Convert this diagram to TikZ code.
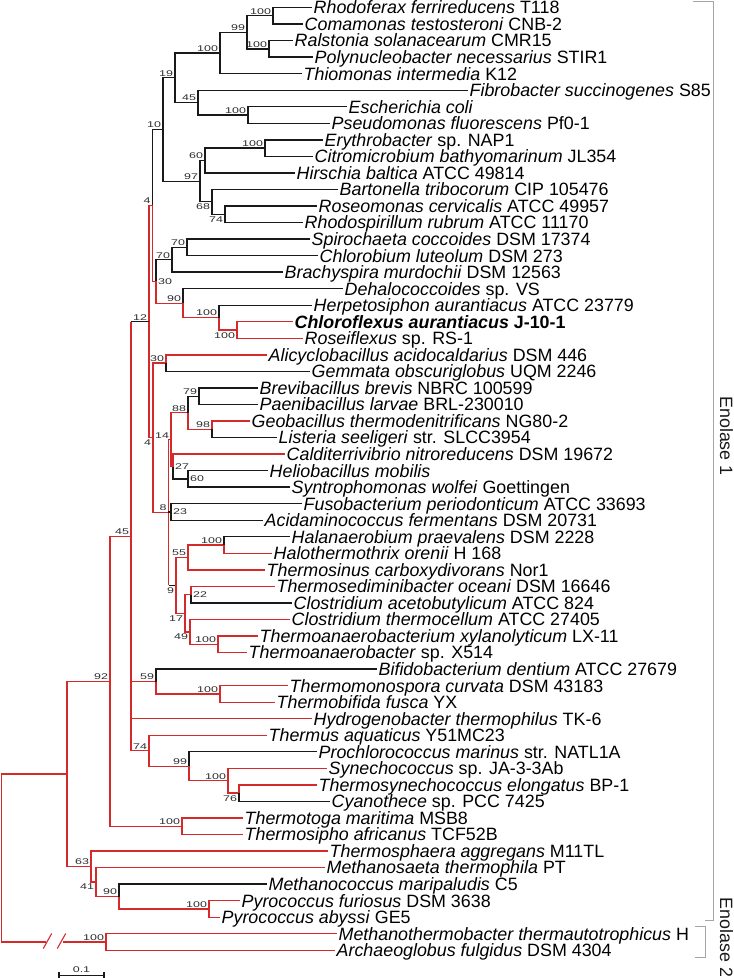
\documentclass[tikz,border=0pt]{standalone}
\usepackage{fontspec}
\setmainfont{Liberation Sans}
\usetikzlibrary{calc}
\definecolor{tr}{RGB}{214,42,42}
\definecolor{tk}{RGB}{25,25,25}
\definecolor{tg}{RGB}{165,165,165}
\definecolor{bsc}{RGB}{45,45,45}
\newcommand\bsx[1]{\scalebox{1.5}[1]{\fontsize{8.3}{8.3}\selectfont #1}}
\newcommand\lf[3]{\coordinate (t#1) at (#2,{7.5+(#1-1)*16.54}); \node[leaflab] (L#1) at (t#1) {#3};}
\begin{document}
\begin{tikzpicture}[x=1pt,y=-1pt,
  k/.style={draw=tk,line width=1.35pt},
  r/.style={draw=tr,line width=1.35pt},
  g/.style={draw=tg,line width=0.9pt},
  leaflab/.style={anchor=base west,inner sep=0pt,xshift=1.5pt,yshift=-6.4pt,font=\fontsize{17.85}{18}\selectfont,text=black},
  bl/.style={anchor=south east,inner sep=0pt,xshift=-1.8pt,yshift=1.4pt,text=bsc},
  bb/.style={anchor=north east,inner sep=0pt,xshift=-1.8pt,yshift=-2pt,text=bsc},
  brt/.style={anchor=west,inner sep=0pt,xshift=2pt,text=bsc},
  enol/.style={rotate=-90,anchor=base,inner sep=0pt,font=\fontsize{17.85}{18}\selectfont,text=tk}]
\useasboundingbox (0,0) rectangle (734,978);
% leaves
\lf{1}{312}{\textit{Rhodoferax ferrireducens} T118}
\lf{2}{303}{\textit{Comamonas testosteroni} CNB-2}
\lf{3}{293}{\textit{Ralstonia solanacearum} CMR15}
\lf{4}{313}{\textit{Polynucleobacter necessarius} STIR1}
\lf{5}{302}{\textit{Thiomonas intermedia} K12}
\lf{6}{468}{\textit{Fibrobacter succinogenes} S85}
\lf{7}{347}{\textit{Escherichia coli}}
\lf{8}{330}{\textit{Pseudomonas fluorescens} Pf0-1}
\lf{9}{323}{\textit{Erythrobacter} sp. NAP1}
\lf{10}{313}{\textit{Citromicrobium bathyomarinum} JL354}
\lf{11}{295}{\textit{Hirschia baltica} ATCC 49814}
\lf{12}{338}{\textit{Bartonella tribocorum} CIP 105476}
\lf{13}{317}{\textit{Roseomonas cervicalis} ATCC 49957}
\lf{14}{303}{\textit{Rhodospirillum rubrum} ATCC 11170}
\lf{15}{310}{\textit{Spirochaeta coccoides} DSM 17374}
\lf{16}{318}{\textit{Chlorobium luteolum} DSM 273}
\lf{17}{283}{\textit{Brachyspira murdochii} DSM 12563}
\lf{18}{343}{\textit{Dehalococcoides} sp. VS}
\lf{19}{312}{\textit{Herpetosiphon aurantiacus} ATCC 23779}
\lf{20}{293}{\textbf{\textit{Chloroflexus aurantiacus} J-10-1}}
\lf{21}{303}{\textit{Roseiflexus} sp. RS-1}
\lf{22}{267}{\textit{Alicyclobacillus acidocaldarius} DSM 446}
\lf{23}{310}{\textit{Gemmata obscuriglobus} UQM 2246}
\lf{24}{258}{\textit{Brevibacillus brevis} NBRC 100599}
\lf{25}{258}{\textit{Paenibacillus larvae} BRL-230010}
\lf{26}{250}{\textit{Geobacillus thermodenitrificans} NG80-2}
\lf{27}{277}{\textit{Listeria seeligeri} str. SLCC3954}
\lf{28}{285}{\textit{Calditerrivibrio nitroreducens} DSM 19672}
\lf{29}{268}{\textit{Heliobacillus mobilis}}
\lf{30}{290}{\textit{Syntrophomonas wolfei} Goettingen}
\lf{31}{302}{\textit{Fusobacterium periodonticum} ATCC 33693}
\lf{32}{263}{\textit{Acidaminococcus fermentans} DSM 20731}
\lf{33}{290}{\textit{Halanaerobium praevalens} DSM 2228}
\lf{34}{272}{\textit{Halothermothrix orenii} H 168}
\lf{35}{265}{\textit{Thermosinus carboxydivorans} Nor1}
\lf{36}{275}{\textit{Thermosediminibacter oceani} DSM 16646}
\lf{37}{292}{\textit{Clostridium acetobutylicum} ATCC 824}
\lf{38}{290}{\textit{Clostridium thermocellum} ATCC 27405}
\lf{39}{258}{\textit{Thermoanaerobacterium xylanolyticum} LX-11}
\lf{40}{247}{\textit{Thermoanaerobacter} sp. X514}
\lf{41}{377}{\textit{Bifidobacterium dentium} ATCC 27679}
\lf{42}{288}{\textit{Thermomonospora curvata} DSM 43183}
\lf{43}{275}{\textit{Thermobifida fusca} YX}
\lf{44}{312}{\textit{Hydrogenobacter thermophilus} TK-6}
\lf{45}{267}{\textit{Thermus aquaticus} Y51MC23}
\lf{46}{317}{\textit{Prochlorococcus marinus} str. NATL1A}
\lf{47}{327}{\textit{Synechococcus} sp. JA-3-3Ab}
\lf{48}{317}{\textit{Thermosynechococcus elongatus} BP-1}
\lf{49}{330}{\textit{Cyanothece} sp. PCC 7425}
\lf{50}{243}{\textit{Thermotoga maritima} MSB8}
\lf{51}{243}{\textit{Thermosipho africanus} TCF52B}
\lf{52}{328}{\textit{Thermosphaera aggregans} M11TL}
\lf{53}{325}{\textit{Methanosaeta thermophila} PT}
\lf{54}{267}{\textit{Methanococcus maripaludis} C5}
\lf{55}{240}{\textit{Pyrococcus furiosus} DSM 3638}
\lf{56}{220}{\textit{Pyrococcus abyssi} GE5}
\lf{57}{337}{\textit{Methanothermobacter thermautotrophicus} H}
\lf{58}{335}{\textit{Archaeoglobus fulgidus} DSM 4304}
% internal nodes
\coordinate (vA) at (273,15.75);
\coordinate (vB) at (269,48.85);
\coordinate (vC) at (247,32.3);
\coordinate (vD) at (220,53.0);
\coordinate (vE) at (248,115.0);
\coordinate (vF) at (198,102.6);
\coordinate (vG) at (175,77.8);
\coordinate (vH) at (265,148.1);
\coordinate (vI) at (205,160.5);
\coordinate (vJ) at (225,214.25);
\coordinate (vK) at (212,201.8);
\coordinate (vL) at (200,181.2);
\coordinate (vM) at (163,129.5);
\coordinate (vP) at (187,247.35);
\coordinate (vQ) at (172,259.7);
\coordinate (vU) at (237,330.05);
\coordinate (vT) at (219,317.6);
\coordinate (vS) at (183,303.2);
\coordinate (vR) at (156,281.4);
\coordinate (vN4) at (152.5,205.5);
\coordinate (v12) at (149,321.6);
\coordinate (v30) at (166,363.1);
\coordinate (v79) at (199,396.2);
\coordinate (v98) at (212,429.3);
\coordinate (v88) at (188,412.7);
\coordinate (v60) at (188,478.9);
\coordinate (v27) at (173,466.5);
\coordinate (v14) at (171,439.6);
\coordinate (v23) at (171,512.0);
\coordinate (vHal) at (224,545.05);
\coordinate (v55) at (188,557.5);
\coordinate (v22) at (191,594.65);
\coordinate (vTh) at (218,644.3);
\coordinate (v49) at (190,631.9);
\coordinate (v17) at (185,613.3);
\coordinate (v9) at (176,585.4);
\coordinate (v8) at (168.5,512.5);
\coordinate (vV) at (153,437.8);
\coordinate (vTT) at (220,693.9);
\coordinate (v59) at (156,681.5);
\coordinate (v76) at (239,793.15);
\coordinate (vS100) at (228,780.7);
\coordinate (v99) at (189,766.25);
\coordinate (v74) at (149,750.8);
\coordinate (vX) at (131,536.2);
\coordinate (vTm) at (182,826.25);
\coordinate (v92) at (110,681.2);
\coordinate (vPy) at (209,908.95);
\coordinate (v90) at (119,896.5);
\coordinate (v41) at (96,882.05);
\coordinate (v63) at (91,866.5);
\coordinate (vZ) at (67,773.9);
\coordinate (vE2) at (106,942);
\coordinate (vroot) at (1.5,857.95);
\coordinate (br1) at (46,942);
\coordinate (br2) at (63,942);
\coordinate (s1) at (47.5,941);
\coordinate (s2) at (61.5,941);
% edges: upper black clade
\draw[k] (vA) |- (t1); \draw[k] (vA) |- (t2);
\draw[k] (vB) |- (t3); \draw[k] (vB) |- (t4);
\draw[k] (vC) |- (vA); \draw[k] (vC) |- (vB);
\draw[k] (vD) |- (vC); \draw[k] (vD) |- (t5);
\draw[k] (vE) |- (t7); \draw[k] (vE) |- (t8);
\draw[k] (vF) |- (t6); \draw[k] (vF) |- (vE);
\draw[k] (vG) |- (vD); \draw[k] (vG) |- (vF);
\draw[k] (vH) |- (t9); \draw[k] (vH) |- (t10);
\draw[k] (vI) |- (vH); \draw[k] (vI) |- (t11);
\draw[k] (vJ) |- (t13); \draw[k] (vJ) |- (t14);
\draw[k] (vK) |- (t12); \draw[k] (vK) |- (vJ);
\draw[k] (vL) |- (vI); \draw[k] (vL) |- (vK);
\draw[k] (vM) |- (vG); \draw[k] (vM) |- (vL);
\draw[k] (vN4) |- (vM); \draw[r] (vN4) |- (vR);
\draw[k] (vR) |- (vQ); \draw[r] (vR) |- (vS);
\draw[k] (vQ) |- (vP); \draw[k] (vQ) |- (t17);
\draw[k] (vP) |- (t15); \draw[k] (vP) |- (t16);
\draw[k] (vS) |- (t18); \draw[r] (vS) |- (vT);
\draw[k] (vT) |- (t19); \draw[r] (vT) |- (vU);
\draw[r] (vU) |- (t20); \draw[r] (vU) |- (t21);
% middle
\draw[r] (v12) |- (vN4); \draw[r] (v12) |- (vV);
\draw[r] (vV) |- (v30); \draw[r] (vV) |- (v8);
\draw[r] (v30) |- (t22); \draw[k] (v30) |- (t23);
\draw[r] (v8) |- (v14); \draw[k] (v8) |- (v23);
\draw[r] (v8) -- (v8 |- v9); \draw[k] (v8 |- v9) -- (v9);
\draw[r] (v14) |- (v88); \draw[r] (v14) |- (v27);
\draw[k] (v88) |- (v79); \draw[r] (v88) |- (v98);
\draw[k] (v79) |- (t24); \draw[k] (v79) |- (t25);
\draw[r] (v98) |- (t26); \draw[k] (v98) |- (t27);
\draw[r] (v27) |- (t28); \draw[k] (v27) |- (v60);
\draw[k] (v60) |- (t29); \draw[k] (v60) |- (t30);
\draw[k] (v23) |- (t31); \draw[k] (v23) |- (t32);
\draw[r] (v9) |- (v55); \draw[r] (v9) |- (v17);
\draw[r] (v55) |- (vHal); \draw[r] (v55) |- (t35);
\draw[k] (vHal) |- (t33); \draw[r] (vHal) |- (t34);
\draw[r] (v17) |- (v22); \draw[r] (v17) |- (v49);
\draw[r] (v22) |- (t36); \draw[k] (v22) |- (t37);
\draw[r] (v49) |- (t38); \draw[r] (v49) |- (vTh);
\draw[r] (vTh) |- (t39); \draw[r] (vTh) |- (t40);
% lower
\draw[r] (vX) -- (vX |- v12); \draw[k] (vX |- v12) -- (v12);
\draw[r] (vX) |- (v59); \draw[r] (vX) |- (t44); \draw[r] (vX) |- (v74);
\draw[k] (v59) |- (t41); \draw[r] (v59) |- (vTT);
\draw[r] (vTT) |- (t42); \draw[r] (vTT) |- (t43);
\draw[r] (v74) |- (t45); \draw[r] (v74) |- (v99);
\draw[k] (v99) |- (t46); \draw[r] (v99) |- (vS100);
\draw[r] (vS100) |- (t47); \draw[r] (vS100) |- (v76);
\draw[r] (v76) |- (t48); \draw[k] (v76) |- (t49);
\draw[r] (v92) |- (vX); \draw[r] (v92) |- (vTm);
\draw[r] (vTm) |- (t50); \draw[r] (vTm) |- (t51);
\draw[r] (vZ) |- (v92); \draw[r] (vZ) |- (v63);
\draw[r] (v63) |- (t52); \draw[r] (v63) |- (v41);
\draw[r] (v41) |- (t53); \draw[r] (v41) |- (v90);
\draw[k] (v90) |- (t54); \draw[r] (v90) |- (vPy);
\draw[r] (vPy) |- (t55); \draw[r] (vPy) |- (t56);
\draw[r] (vE2) |- (t57); \draw[r] (vE2) |- (t58);
\draw[r] (vroot) |- (vZ);
\draw[r] (vroot) |- (br1);
\draw[r] (br2) -- (vE2);
\draw[r,line width=1.1pt] ([shift={(-4.2,7.5)}]s1) -- ([shift={(4.2,-7.5)}]s1);
\draw[r,line width=1.1pt] ([shift={(-4.2,7.5)}]s2) -- ([shift={(4.2,-7.5)}]s2);
% bootstrap values
\node[bl] (bA) at (vA) {\bsx{100}};
\node[bl] (bB) at (vB) {\bsx{100}};
\node[bl] (bC) at (vC) {\bsx{99}};
\node[bl] (bD) at (vD) {\bsx{100}};
\node[bl] (bE) at (vE) {\bsx{100}};
\node[bl] (bF) at (vF) {\bsx{45}};
\node[bl] (bG) at (vG) {\bsx{19}};
\node[bl] (bH) at (vH) {\bsx{100}};
\node[bl] (bI) at (vI) {\bsx{60}};
\node[bb] (bJ) at (vJ) {\bsx{74}};
\node[bb] (bK) at (vK) {\bsx{68}};
\node[bl] (bL) at (vL) {\bsx{97}};
\node[bl] (bM) at (vM) {\bsx{10}};
\node[bl] (bN4) at (vN4) {\bsx{4}};
\node[bl] (bP) at (vP) {\bsx{70}};
\node[bl] (bQ) at (vQ) {\bsx{70}};
\node[brt] (bR) at (vR) {\bsx{30}};
\node[bl] (bS) at (vS) {\bsx{90}};
\node[bl] (bT) at (vT) {\bsx{100}};
\node[bb] (bU) at (vU) {\bsx{100}};
\node[bl] (b12) at (v12) {\bsx{12}};
\node[bl] (b30) at (v30) {\bsx{30}};
\node[bl] (b79) at (v79) {\bsx{79}};
\node[bl] (b88) at (v88) {\bsx{88}};
\node[bl] (b98) at (v98) {\bsx{98}};
\node[bb] (bV) at (vV) {\bsx{4}};
\node[bl] (b14) at (v14) {\bsx{14}};
\node[brt] (b27) at (v27) {\bsx{27}};
\node[brt] (b60) at (v60) {\bsx{60}};
\node[bl] (b8) at (v8) {\bsx{8}};
\node[brt] (b23) at (v23) {\bsx{23}};
\node[bl] (bHal) at (vHal) {\bsx{100}};
\node[bl] (b55) at (v55) {\bsx{55}};
\node[bb] (b9) at (v9) {\bsx{9}};
\node[brt] (b22) at (v22) {\bsx{22}};
\node[bb] (b17) at (v17) {\bsx{17}};
\node[bb] (b49) at (v49) {\bsx{49}};
\node[bl] (bTh) at (vTh) {\bsx{100}};
\node[bl] (bX) at (vX) {\bsx{45}};
\node[bl] (b92) at (v92) {\bsx{92}};
\node[bl] (b59) at (v59) {\bsx{59}};
\node[bl] (bTT) at (vTT) {\bsx{100}};
\node[bl] (b74) at (v74) {\bsx{74}};
\node[bl] (b99) at (v99) {\bsx{99}};
\node[bl] (bS100) at (vS100) {\bsx{100}};
\node[bb] (b76) at (v76) {\bsx{76}};
\node[bl] (bTm) at (vTm) {\bsx{100}};
\node[bl] (b63) at (v63) {\bsx{63}};
\node[bb] (b41) at (v41) {\bsx{41}};
\node[bl] (b90) at (v90) {\bsx{90}};
\node[bl] (bPy) at (vPy) {\bsx{100}};
\node[bl] (bE2) at (vE2) {\bsx{100}};
% brackets
\draw[g] (693,1) -- (713.3,1) -- (713.3,920.5) -- (705,920.5);
\draw[g] (695,926) -- (705,926) -- (705,957) -- (695,957);
\node[enol] (en1) at (720,436) {Enolase 1};
\node[enol] (en2) at (720,937.5) {Enolase 2};
% scale bar
\coordinate (sb1) at (59,975.5);
\coordinate (sb2) at (104,975.5);
\draw[draw=tk,line width=1.2pt] (sb1) -- (sb2);
\draw[draw=tk,line width=1.2pt] ([yshift=3.5pt]sb1) -- ([yshift=-2pt]sb1);
\draw[draw=tk,line width=1.2pt] ([yshift=3.5pt]sb2) -- ([yshift=-2pt]sb2);
\node[anchor=south,inner sep=0pt,text=bsc] (sbl) at ($(sb1)!0.5!(sb2)+(0,-2.5)$) {\bsx{0.1}};
\end{tikzpicture}
\end{document}
